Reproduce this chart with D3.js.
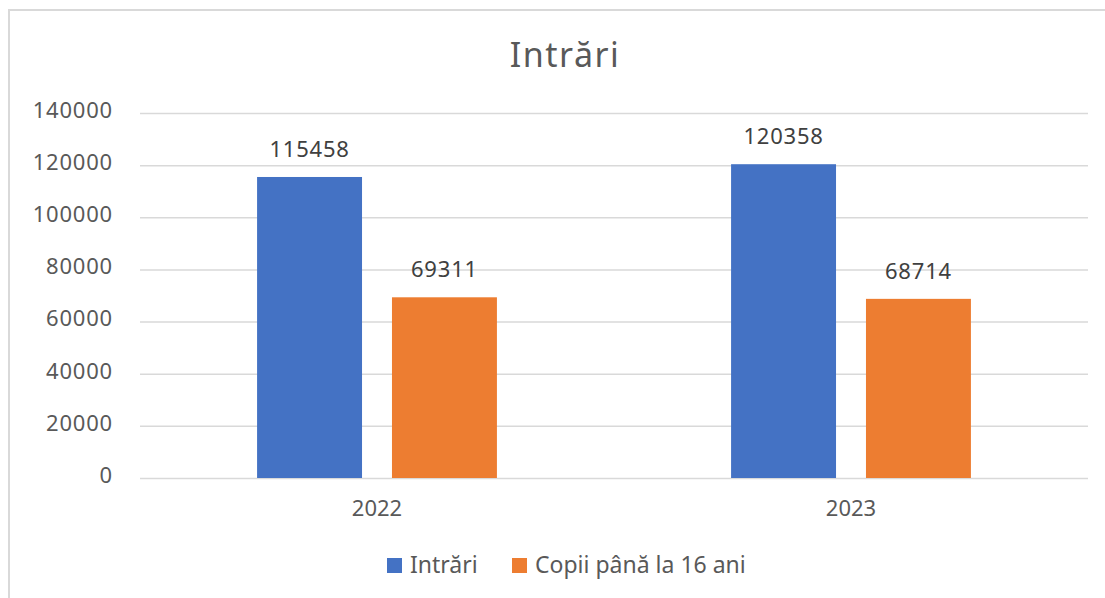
<!DOCTYPE html>
<html lang="ro">
<head>
<meta charset="utf-8">
<title>Intrări</title>
<script src="https://cdn.jsdelivr.net/npm/d3@7"></script>
<style>
  body { margin: 0; background: #fff; }
  svg text { font-family: "Noto Sans", "Open Sans", sans-serif; }
</style>
</head>
<body>
<svg id="chart" width="1105" height="598"></svg>
<script>
// -- chart data
var years = ["2022", "2023"];
var seriesNames = ["Intrări", "Copii până la 16 ani"];
var intrari = [115458, 120358];
var copii = [69311, 68714];
var yTicks = [0, 20000, 40000, 60000, 80000, 100000, 120000, 140000];

var colors = ["#4472c4", "#ed7d31"];
var values = [intrari, copii];

var svg = d3.select("#chart");

// outer chart box (runs off the right/bottom of the picture)
svg.append("rect")
    .attr("x", 9).attr("y", 10)
    .attr("width", 1130).attr("height", 620)
    .attr("fill", "#fff")
    .attr("stroke", "#d9d9d9")
    .attr("stroke-width", 2);

var plotLeft = 140, plotRight = 1088, plotTop = 113, plotBottom = 478;

var y = d3.scaleLinear().domain([0, 140000]).range([plotBottom, plotTop]);

var x0 = d3.scaleBand().domain(years).range([plotLeft, plotRight])
    .paddingInner(0.494).paddingOuter(0.247);

var x1 = d3.scaleBand().domain(seriesNames).range([0, x0.bandwidth()])
    .paddingInner(0.222).paddingOuter(0);

// gridlines + y labels
var yAxis = d3.axisLeft(y).tickValues(yTicks).tickFormat(d3.format("d"))
    .tickSize(-(plotRight - plotLeft)).tickPadding(27);
var gAxis = svg.append("g").attr("transform", "translate(" + plotLeft + ",0)").call(yAxis);
gAxis.select(".domain").remove();
gAxis.selectAll("line").attr("stroke", "#d9d9d9").attr("stroke-width", 1.5);
gAxis.selectAll("text")
    .attr("fill", "#595959")
    .attr("dy", "0.2em")
    .style("letter-spacing", "0.8px")
    .style("font-size", "22px");

// bars
var groups = svg.selectAll("g.year")
    .data(years)
    .enter().append("g")
    .attr("class", "year")
    .attr("transform", function(d) { return "translate(" + x0(d) + ",0)"; });

seriesNames.forEach(function(s, si) {
    groups.append("rect")
        .attr("x", x1(s))
        .attr("y", function(d, i) { return y(values[si][i]); })
        .attr("width", x1.bandwidth())
        .attr("height", function(d, i) { return plotBottom - y(values[si][i]); })
        .attr("fill", colors[si]);

    groups.append("text")
        .attr("x", x1(s) + x1.bandwidth() / 2)
        .attr("y", function(d, i) { return y(values[si][i]) - 20; })
        .attr("text-anchor", "middle")
        .attr("fill", "#404040")
        .style("letter-spacing", "0.8px")
        .style("font-size", "22px")
        .text(function(d, i) { return values[si][i]; });
});

// x axis labels
var xAxis = d3.axisBottom(x0).tickSize(0).tickPadding(22);
var gx = svg.append("g").attr("transform", "translate(0," + plotBottom + ")").call(xAxis);
gx.select(".domain").remove();
gx.selectAll("text").attr("fill", "#595959").style("font-size", "22px");

// title
svg.append("text")
    .attr("x", 565).attr("y", 67)
    .attr("text-anchor", "middle")
    .attr("fill", "#595959")
    .style("font-size", "34px")
    .style("letter-spacing", "1.5px")
    .text("Intrări");

// legend
var legendX = [387, 512];
seriesNames.forEach(function(s, si) {
    svg.append("rect")
        .attr("x", legendX[si]).attr("y", 558)
        .attr("width", 15).attr("height", 15)
        .attr("fill", colors[si]);
    svg.append("text")
        .attr("x", legendX[si] + 23).attr("y", 573)
        .attr("fill", "#595959")
        .style("font-size", "23px")
        .text(s);
});
</script>
</body>
</html>
